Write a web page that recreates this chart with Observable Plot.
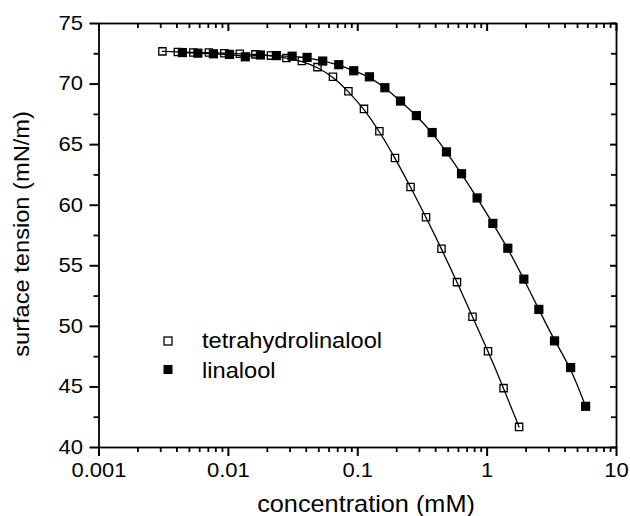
<!DOCTYPE html>
<html><head><meta charset="utf-8">
<script src="https://cdn.jsdelivr.net/npm/d3@7"></script>
<script src="https://cdn.jsdelivr.net/npm/@observablehq/plot@0.6"></script>
<style>
html,body{margin:0;padding:0;background:#fff;}
#chart svg{display:block;}
</style></head><body><div id="chart"></div>
<script>
// Tick values and labels
const xTicks = [0.001, 0.01, 0.1, 1, 10];
const xTickLabels = ["0.001", "0.01", "0.1", "1", "10"];
const xMinorTicks = [0.002,0.003,0.004,0.005,0.006,0.007,0.008,0.009,
  0.02,0.03,0.04,0.05,0.06,0.07,0.08,0.09,
  0.2,0.3,0.4,0.5,0.6,0.7,0.8,0.9,
  2,3,4,5,6,7,8,9];
const yTicks = [40, 45, 50, 55, 60, 65, 70, 75];
const yMinorTicks = [42.5, 47.5, 52.5, 57.5, 62.5, 67.5, 72.5];

// Series
const seriesNames = ["tetrahydrolinalool", "linalool"];
const xTitle = "concentration (mM)";
const yTitle = "surface tension (mN/m)";

const thlConc = [0.00309, 0.00407, 0.00536, 0.00707, 0.00931, 0.01227, 0.01617, 0.02132, 0.0281, 0.0370,
  0.0488, 0.0643, 0.0847, 0.1117, 0.147, 0.194, 0.256, 0.337, 0.444, 0.585, 0.771, 1.016, 1.34, 1.766];
const thlTension = [72.7, 72.65, 72.6, 72.6, 72.55, 72.5, 72.45, 72.35, 72.15, 71.9,
  71.4, 70.6, 69.4, 67.95, 66.1, 63.9, 61.5, 59.0, 56.4, 53.65, 50.8, 47.95, 44.9, 41.7];

const linConc = [0.00441, 0.00581, 0.00766, 0.0102, 0.01352, 0.01768, 0.0235, 0.0311, 0.0406, 0.0536,
  0.0713, 0.0931, 0.1231, 0.162, 0.214, 0.284, 0.376, 0.485, 0.634, 0.837, 1.107, 1.445, 1.922, 2.51,
  3.32, 4.42, 5.77];
const linTension = [72.6, 72.55, 72.5, 72.45, 72.25, 72.4, 72.35, 72.3, 72.2, 71.9,
  71.6, 71.1, 70.6, 69.7, 68.6, 67.4, 66.0, 64.4, 62.6, 60.6, 58.5, 56.45, 53.9, 51.4,
  48.8, 46.6, 43.4];

const thl = thlConc.map((c, i) => ({c, t: thlTension[i]}));
const lin = linConc.map((c, i) => ({c, t: linTension[i]}));

const FONT = "'Liberation Sans', Arial, Helvetica, sans-serif";
const STRETCH = 1.1;

const W = 630, H = 516, ML = 98.5, MR = 14, MT = 23, MB = 69;
const PW = W - ML - MR, PH = H - MT - MB;

// tick helpers: rules trimmed with insets to short tick lengths
const tickBottom = (data, len, sw) => Plot.ruleX(data, {x: d => d, insetTop: PH, insetBottom: -len, stroke: "#000", strokeWidth: sw});
const tickTop = (data, len, sw) => Plot.ruleX(data, {x: d => d, insetTop: 0, insetBottom: PH - len, stroke: "#000", strokeWidth: sw});
const tickLeft = (data, len, sw) => Plot.ruleY(data, {y: d => d, insetLeft: -len, insetRight: PW, stroke: "#000", strokeWidth: sw});
const tickRight = (data, len, sw) => Plot.ruleY(data, {y: d => d, insetLeft: PW - len, insetRight: 0, stroke: "#000", strokeWidth: sw});

const plot = Plot.plot({
  width: W,
  height: H,
  marginLeft: ML,
  marginRight: MR,
  marginTop: MT,
  marginBottom: MB,
  style: {fontFamily: FONT, fontSize: "20px", color: "black", background: "white"},
  x: {type: "log", domain: [0.001, 10]},
  y: {domain: [40, 75]},
  marks: [
    Plot.axisX(xTicks, {anchor: "bottom", tickSize: 0, tickPadding: 15, fontSize: 20,
      tickFormat: d => xTickLabels[xTicks.indexOf(d)], label: null}),
    Plot.axisY(yTicks, {anchor: "left", tickSize: 0, tickPadding: 16, fontSize: 20, label: null}),
    tickBottom(xTicks, 9, 2),
    tickBottom(xMinorTicks, 5, 1.8),
    tickTop(xTicks, 8, 2),
    tickTop(xMinorTicks, 5, 1.8),
    tickLeft(yTicks, 9, 2),
    tickLeft(yMinorTicks, 5, 1.8),
    tickRight(yTicks, 6, 2),
    tickRight(yMinorTicks, 5, 1.8),
    Plot.frame({stroke: "black", strokeWidth: 1.8}),
    Plot.line(thl, {x: "c", y: "t", curve: "basis", stroke: "black", strokeWidth: 1.3}),
    Plot.line(lin, {x: "c", y: "t", curve: "basis", stroke: "black", strokeWidth: 1.3}),
    Plot.dot(thl, {x: "c", y: "t", symbol: "square", r: 4.1, fill: "none", stroke: "black", strokeWidth: 1.3}),
    Plot.dot(lin, {x: "c", y: "t", symbol: "square", r: 5.2, fill: "black", stroke: "none"})
  ]
});

document.getElementById("chart").appendChild(plot);

// widen tick-label glyphs like the reference typeface
plot.querySelectorAll('g[aria-label="x-axis tick label"] text, g[aria-label="y-axis tick label"] text').forEach(t => {
  const tr = t.getAttribute("transform") || "";
  t.setAttribute("transform", tr + ` scale(${STRETCH},1)`);
});

const svg = d3.select(plot);

// axis titles
svg.append("text")
  .attr("transform", `translate(366,512) scale(${STRETCH},1)`)
  .attr("text-anchor", "middle")
  .style("font-family", FONT).style("font-size", "23px").attr("fill", "black")
  .text(xTitle);
svg.append("text")
  .attr("transform", `translate(29,234) rotate(-90) scale(${STRETCH},1)`)
  .attr("text-anchor", "middle")
  .style("font-family", FONT).style("font-size", "21.5px").attr("fill", "black")
  .text(yTitle);

// legend
const leg = svg.append("g");
leg.append("rect").attr("x", 164).attr("y", 337).attr("width", 8).attr("height", 8)
  .attr("fill", "none").attr("stroke", "black").attr("stroke-width", 1.3);
leg.append("rect").attr("x", 163.5).attr("y", 365).attr("width", 9).attr("height", 9)
  .attr("fill", "black");
leg.append("text").attr("transform", `translate(202,348) scale(${STRETCH},1)`)
  .attr("text-anchor", "start")
  .style("font-family", FONT).style("font-size", "21.5px").attr("fill", "black")
  .text(seriesNames[0]);
leg.append("text").attr("transform", `translate(202,378) scale(${STRETCH},1)`)
  .attr("text-anchor", "start")
  .style("font-family", FONT).style("font-size", "21.5px").attr("fill", "black")
  .text(seriesNames[1]);
</script>
</body></html>
